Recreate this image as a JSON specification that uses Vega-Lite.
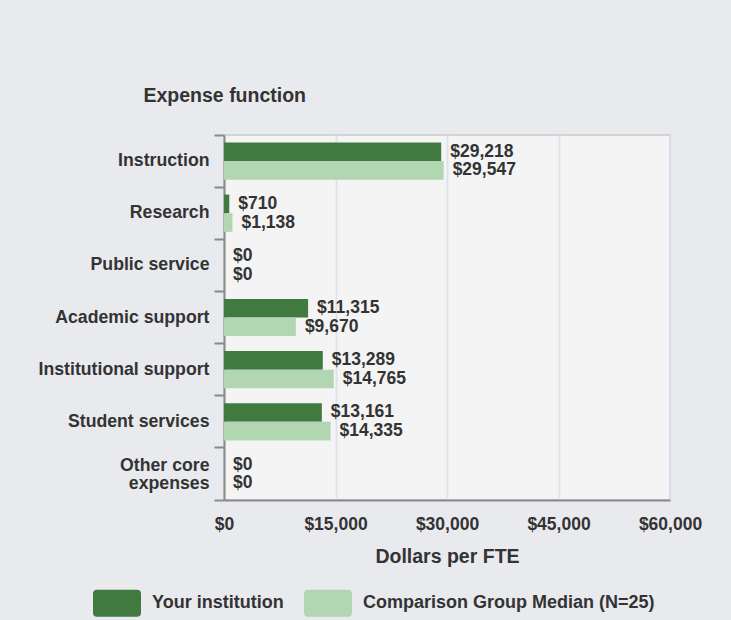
{
  "$schema": "https://vega.github.io/schema/vega-lite/v6.json",
  "width": 446,
  "height": 365,
  "autosize": "none",
  "padding": {"left": 224, "top": 135, "right": 61, "bottom": 120},
  "background": "#e9eaee",
  "data": {
    "values": [
      {"category": "Instruction", "series": "Your institution", "value": 29218},
      {"category": "Instruction", "series": "Comparison Group Median (N=25)", "value": 29547},
      {"category": "Research", "series": "Your institution", "value": 710},
      {"category": "Research", "series": "Comparison Group Median (N=25)", "value": 1138},
      {"category": "Public service", "series": "Your institution", "value": 0},
      {"category": "Public service", "series": "Comparison Group Median (N=25)", "value": 0},
      {"category": "Academic support", "series": "Your institution", "value": 11315},
      {"category": "Academic support", "series": "Comparison Group Median (N=25)", "value": 9670},
      {"category": "Institutional support", "series": "Your institution", "value": 13289},
      {"category": "Institutional support", "series": "Comparison Group Median (N=25)", "value": 14765},
      {"category": "Student services", "series": "Your institution", "value": 13161},
      {"category": "Student services", "series": "Comparison Group Median (N=25)", "value": 14335},
      {"category": "Other core expenses", "series": "Your institution", "value": 0},
      {"category": "Other core expenses", "series": "Comparison Group Median (N=25)", "value": 0}
    ]
  },
  "encoding": {
    "y": {
      "field": "category",
      "type": "nominal",
      "sort": ["Instruction", "Research", "Public service", "Academic support", "Institutional support", "Student services", "Other core expenses"],
      "scale": {"paddingInner": 0, "paddingOuter": 0},
      "axis": {
        "title": "Expense function",
        "titleAngle": 0,
        "titleAlign": "left",
        "titleBaseline": "middle",
        "titleX": -81,
        "titleY": -40,
        "titleFontSize": 19.5,
        "titleFontWeight": "bold",
        "titleColor": "#333333",
        "bandPosition": 1,
        "tickExtra": true,
        "tickSize": 10,
        "tickWidth": 2,
        "tickColor": "#8a8a8a",
        "domainColor": "#8a8a8a",
        "domainWidth": 2,
        "labelPadding": 5,
        "labelFontSize": 17.7,
        "labelFontWeight": "bold",
        "labelColor": "#333333",
        "labelLimit": 300,
        "labelLineHeight": 18,
        "labelOffset": {"condition": {"test": "datum.value == 'Other core expenses'", "value": -8}, "value": 0},
        "labelExpr": "datum.label == 'Other core expenses' ? ['Other core', 'expenses'] : datum.label",
        "grid": false
      }
    },
    "yOffset": {
      "field": "series",
      "type": "nominal",
      "sort": ["Your institution", "Comparison Group Median (N=25)"],
      "scale": {"paddingOuter": 0.4, "paddingInner": 0}
    },
    "x": {
      "field": "value",
      "type": "quantitative",
      "scale": {"domain": [0, 60000], "nice": false},
      "axis": {
        "values": [0, 15000, 30000, 45000, 60000],
        "format": "$,.0f",
        "grid": true,
        "gridColor": "#dde3ee",
        "gridWidth": 2,
        "ticks": false,
        "tickSize": 0,
        "domainColor": "#8a8a8a",
        "domainWidth": 2,
        "labelFlush": false,
        "labelPadding": 15,
        "labelFontSize": 17.5,
        "labelFontWeight": "bold",
        "labelColor": "#333333",
        "title": "Dollars per FTE",
        "titlePadding": 15,
        "titleFontSize": 19.5,
        "titleFontWeight": "bold",
        "titleColor": "#333333"
      }
    }
  },
  "layer": [
    {
      "mark": {"type": "bar"},
      "encoding": {
        "color": {
          "field": "series",
          "type": "nominal",
          "sort": ["Your institution", "Comparison Group Median (N=25)"],
          "scale": {
            "domain": ["Your institution", "Comparison Group Median (N=25)"],
            "range": ["#417a41", "#b2d6b2"]
          },
          "legend": {
            "title": null,
            "orient": "none",
            "legendX": -131,
            "legendY": 444,
            "direction": "horizontal",
            "columns": 2,
            "symbolType": "M-0.83,-0.5625 L0.83,-0.5625 Q1,-0.5625 1,-0.396 L1,0.396 Q1,0.5625 0.83,0.5625 L-0.83,0.5625 Q-1,0.5625 -1,0.396 L-1,-0.396 Q-1,-0.5625 -0.83,-0.5625 Z",
            "symbolSize": 2304,
            "symbolStrokeWidth": 0,
            "symbolOpacity": 1,
            "labelFontSize": 18,
            "labelFontWeight": "bold",
            "labelColor": "#333333",
            "labelOffset": 11,
            "labelLimit": 400,
            "columnPadding": 20
          }
        }
      }
    },
    {
      "mark": {"type": "text", "align": "left", "baseline": "middle", "dx": 9, "fontSize": 17.5, "fontWeight": "bold", "color": "#333333"},
      "encoding": {
        "text": {"field": "value", "type": "quantitative", "format": "$,.0f"}
      }
    }
  ],
  "config": {
    "font": "Liberation Sans",
    "view": {"fill": "#f4f4f4", "stroke": "#d3d3d3", "strokeWidth": 2}
  }
}
